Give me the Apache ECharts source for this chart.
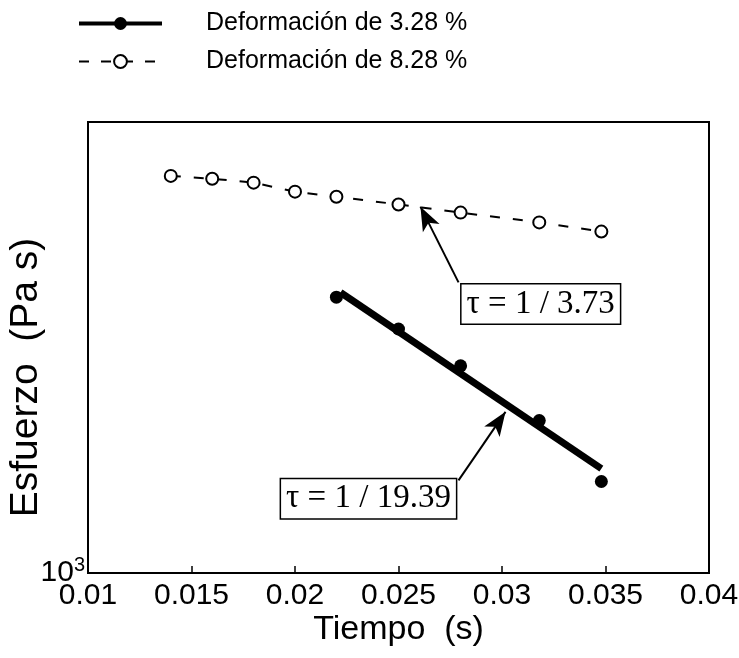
<!DOCTYPE html>
<html>
<head>
<meta charset="utf-8">
<script src="https://cdn.jsdelivr.net/npm/echarts@6/dist/echarts.min.js"></script>
<style>html,body{margin:0;padding:0;background:#fff}#c{width:739px;height:658px}</style>
</head>
<body>
<div id="c"></div>
<script>
// Data
const seriesNames = ['Deformación de 3.28 %', 'Deformación de 8.28 %'];
const timeOpen = [0.014, 0.016, 0.018, 0.020, 0.022, 0.025, 0.028, 0.0318, 0.0348];
const stressOpen = [1841, 1833, 1822, 1797, 1783, 1762, 1740, 1714, 1690];
const timeFilled = [0.022, 0.025, 0.028, 0.0318, 0.0348];
const stressFilled = [1528, 1455, 1375, 1264, 1151];
const fitTime = [0.0222, 0.0348];
const fitStress = [1539, 1174];
const xTicks = [0.01, 0.015, 0.02, 0.025, 0.03, 0.035, 0.04];
const annotText = ['τ = 1 / 3.73', 'τ = 1 / 19.39'];
const annotBox = [[0.03187, 1512], [0.02355, 1121]];
const arrowTail = [[0.0279, 1563], [0.0279, 1153]];
const arrowTip = [[0.02606, 1756], [0.03017, 1281]];

const zip = (a, b) => a.map((v, i) => [v, b[i]]);
const chart = echarts.init(document.getElementById('c'));
const sans = '"Liberation Sans", Arial, sans-serif';
const serif = '"Liberation Serif", "Times New Roman", serif';

chart.setOption({
  animation: false,
  legend: {
    left: 72, top: 6, orient: 'vertical', itemGap: 13,
    itemWidth: 83, itemHeight: 16,
    data: [
      { name: seriesNames[0], lineStyle: { width: 4, color: '#000' } },
      { name: seriesNames[1], lineStyle: { width: 2, color: '#000', type: [10, 12] } }
    ],
    selectedMode: false,
    textStyle: { fontFamily: sans, fontSize: 25, color: '#000', padding: [0, 0, 0, 39] }
  },
  grid: { left: 88, right: 30, top: 122, bottom: 85, outerBoundsMode: 'none', containLabel: false,
    show: true, borderColor: '#000', borderWidth: 2, backgroundColor: 'transparent' },
  xAxis: {
    type: 'value', min: xTicks[0], max: xTicks[xTicks.length - 1], interval: 0.005,
    name: 'Tiempo  (s)', nameLocation: 'middle', nameGap: 40, nameMoveOverlap: false,
    nameTextStyle: { fontFamily: sans, fontSize: 34, color: '#000' },
    axisLine: { lineStyle: { color: '#000', width: 2 } },
    axisTick: { inside: true, length: 7, lineStyle: { color: '#000', width: 1.5 } },
    splitLine: { show: false },
    axisLabel: { fontFamily: sans, fontSize: 30, color: '#000', margin: 8,
      formatter: v => String(+v.toFixed(3)) }
  },
  yAxis: {
    type: 'log', logBase: 10, min: 1000, max: 2000,
    name: 'Esfuerzo  (Pa s)', nameLocation: 'middle', nameGap: 42, nameMoveOverlap: false,
    nameTextStyle: { fontFamily: sans, fontSize: 39, color: '#000', padding: [0, 60, 0, 0] },
    axisLine: { lineStyle: { color: '#000', width: 2 } },
    axisTick: { show: false },
    splitLine: { show: false },
    axisLabel: { showMaxLabel: false, margin: 3, verticalAlign: 'middle',
      formatter: v => (Math.abs(v - 1000) < 1 ? '10{s|3}' : ''),
      rich: { s: { fontFamily: sans, fontSize: 20, color: '#000', verticalAlign: 'top', padding: [0, 0, 16, 0] } },
      fontFamily: sans, fontSize: 30, color: '#000' }
  },
  series: [
    {
      name: seriesNames[0], type: 'line', data: zip(fitTime, fitStress),
      symbol: 'none', color: '#000',
      lineStyle: { color: '#000', width: 7 },
      emphasis: { disabled: true },
      markLine: {
        silent: true, symbol: ['none', 'arrow'], symbolSize: [14, 24],
        lineStyle: { color: '#000', width: 2, type: 'solid' }, label: { show: false },
        emphasis: { disabled: true },
        data: arrowTail.map((t, i) => [{ coord: t }, { coord: arrowTip[i] }])
      },
      markPoint: {
        silent: true, symbol: 'rect', symbolSize: 1, itemStyle: { color: 'transparent' },
        label: { show: true, position: 'inside', fontFamily: serif, fontSize: 33, color: '#000',
          backgroundColor: '#fff', borderColor: '#000', borderWidth: 1.5, padding: [4, 5, 2, 5],
          formatter: p => p.name },
        data: annotText.map((t, i) => ({ name: t, coord: annotBox[i] }))
      },
      z: 3
    },
    {
      name: seriesNames[1], type: 'line', data: zip(timeOpen, stressOpen),
      symbol: 'emptyCircle', symbolSize: 12, showSymbol: true, color: '#000',
      itemStyle: { color: '#000', borderWidth: 2, opacity: 1 },
      lineStyle: { color: '#000', width: 2, type: [10, 13] },
      emphasis: { disabled: true }
    },
    {
      name: 'puntos 3.28', type: 'scatter', data: zip(timeFilled, stressFilled),
      symbol: 'circle', symbolSize: 13, itemStyle: { color: '#000', opacity: 1 }, z: 4,
      emphasis: { disabled: true }
    }
  ]
});
</script>
</body>
</html>
